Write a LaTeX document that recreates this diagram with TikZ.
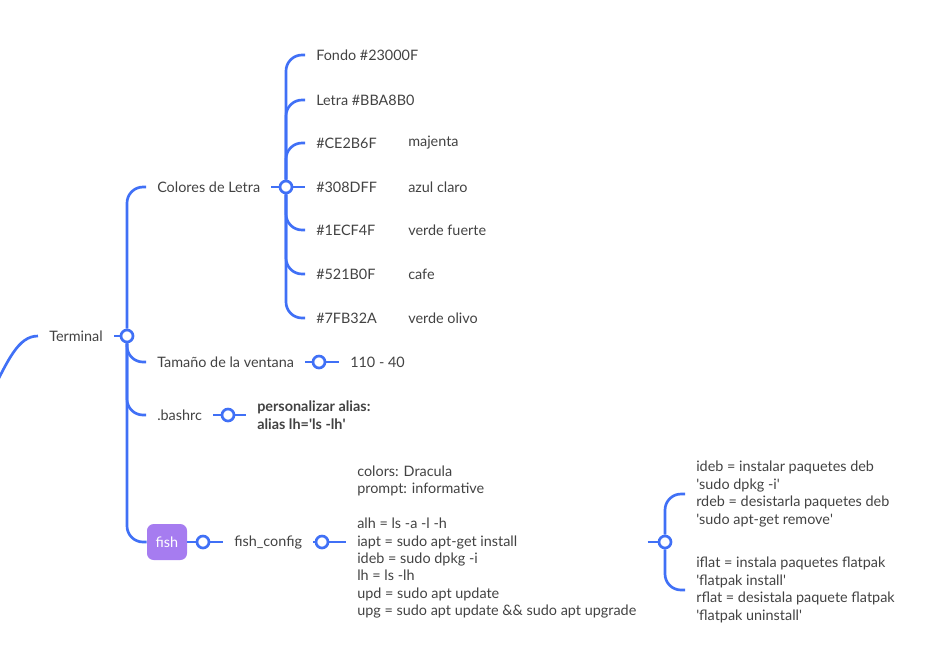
\documentclass[tikz,border=0pt]{standalone}
\usepackage{fontspec}
\setsansfont{Lato}
\usetikzlibrary{positioning}
\definecolor{mapblue}{RGB}{64,112,246}
\definecolor{maptext}{RGB}{66,66,66}
\definecolor{fishpurple}{RGB}{166,124,240}

\begin{document}
\begin{tikzpicture}[x=0.75pt,y=-0.75pt,font=\sffamily\fontsize{10.8}{13.1}\selectfont,
  topic/.style={anchor=west, inner xsep=8.25pt, inner ysep=1pt, text=maptext, align=left},
  knob/.style={draw=mapblue, line width=2pt, fill=white, circle, inner sep=0pt, minimum size=9pt},
  branch/.style={draw=mapblue, line width=2pt, rounded corners=12pt}]
  \useasboundingbox (0,0) rectangle (930,651);

  % tronco
  \coordinate (in) at (-12,400);
  \node[topic] (term) at (38,336) {Terminal};
  \node[knob] (c0) at (127,336) {};
  \draw[branch] (in) .. controls (8,360) and (18,336) .. (term.west);
  \draw[branch] (term.east) -- (c0);

  % Colores de Letra
  \node[topic] (colores) at (146,187) {Colores de Letra};
  \node[knob] (c1) at (286,187) {};
  \draw[branch] (c0.north) |- (colores.west);
  \draw[branch] (colores.east) -- (c1);
  \foreach \i/\y/\txt in {0/55/Fondo \#23000F, 1/100/Letra \#BBA8B0}
    \node[topic] (N\i) at (305,\y) {\txt};
  \foreach \i/\y/\hex/\name in {2/143/CE2B6F/majenta, 3/187/308DFF/azul claro,
      4/230/1ECF4F/verde fuerte, 5/274/521B0F/cafe, 6/318/7FB32A/verde olivo} {
    \node[topic] (N\i) at (305,\y) {\#\hex};
    \node[topic] (M\i) at (397,\y) {\name};
  }
  \foreach \i in {0,1,2}
    \draw[branch] (c1.north) |- (N\i.west);
  \draw[branch] (c1.east) -- (N3.west);
  \foreach \i in {4,5,6}
    \draw[branch] (c1.south) |- (N\i.west);

  % Tamaño
  \node[topic] (tam) at (146,362) {Tamaño de la ventana};
  \node[knob] (c2) at (319,362) {};
  \node[topic] (tamval) at (339,362) {110 - 40};
  \draw[branch] (c0.south) |- (tam.west);
  \draw[branch] (tam.east) -- (c2) -- (tamval.west);

  % .bashrc
  \node[topic] (bash) at (146,415) {.bashrc};
  \node[knob] (c3) at (228,415) {};
  \node[topic, font=\sffamily\bfseries\fontsize{10.8}{13.1}\selectfont] (alias) at (246,415)
    {personalizar alias:\\alias lh=\textquotesingle ls -lh\textquotesingle};
  \draw[branch] (c0.south) |- (bash.west);
  \draw[branch] (bash.east) -- (c3) -- (alias.west);

  % fish
  \node[fill=fishpurple, text=white, rounded corners=5pt, minimum width=30pt,
    minimum height=27pt, inner sep=0pt] (fish) at (167,542) {fish};
  \node[knob] (c4) at (203,542) {};
  \node[topic] (fcfg) at (223,542) {fish\_config};
  \node[knob] (c5) at (322,542) {};
  \node[topic] (fcode) at (346,542) {colors: Dracula\\prompt: informative\\[13.1pt]
    alh = ls -a -l -h\\iapt = sudo apt-get install\\ideb = sudo dpkg -i\\lh = ls -lh\\
    upd = sudo apt update\\upg = sudo apt update \&\& sudo apt upgrade};
  \draw[branch] (c0.south) |- (fish.west);
  \draw[branch] (fish.east) -- (c4) -- (fcfg.west);
  \draw[branch] (fcfg.east) -- (c5) -- (fcode.west);

  % paquetes
  \node[knob] (c6) at (665,542) {};
  \node[topic] (deb) at (685,494) {ideb = instalar paquetes deb\\
    \textquotesingle sudo dpkg -i\textquotesingle\\rdeb = desistarla paquetes deb\\
    \textquotesingle sudo apt-get remove\textquotesingle};
  \node[topic] (flat) at (685,590) {iflat = instala paquetes flatpak\\
    \textquotesingle flatpak install\textquotesingle\\rflat = desistala paquete flatpak\\
    \textquotesingle flatpak uninstall\textquotesingle};
  \draw[branch] (fcode.east) -- (c6);
  \draw[branch] (c6.north) |- (deb.west);
  \draw[branch] (c6.south) |- (flat.west);
\end{tikzpicture}
\end{document}
